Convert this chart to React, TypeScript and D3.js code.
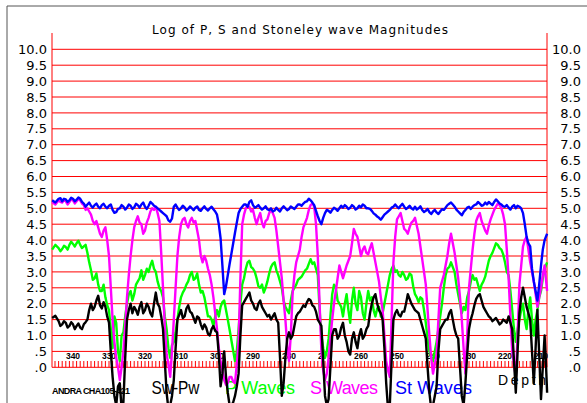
import React from 'react';
import * as d3 from 'd3';

// Depth axis (decreasing to the right)
const depthLabels = [340, 330, 320, 310, 300, 290, 280, 270, 260, 250, 240, 230, 220, 210];
const depthTicks = d3.range(345, 208, -1);
const yTicks = d3.range(0, 10.001, 0.5);
const depths = [345.8, ...d3.range(344, 208, -1), 208.3];

// Values at each depth sample
const stWaves = [
  5.25, 5.3, 5.22, 5.28, 5.25, 5.3, 5.27, 5.3, 5.15, 5.12,
  5.08, 5.1, 5.05, 5.1, 5.05, 5.08, 4.95, 4.88, 5.0, 5.05,
  5.02, 5.08, 5.03, 5.1, 5.12, 5.05, 5.08, 5.15, 5.05, 4.95,
  4.85, 4.75, 4.58, 5.05, 5.02, 5.0, 5.03, 4.98, 5.0, 5.02,
  4.95, 5.0, 4.98, 5.0, 4.97, 4.8, 4.05, 2.3, 2.9, 3.57,
  4.23, 4.85, 5.05, 5.12, 5.2, 5.1, 5.05, 5.02, 5.0, 4.97,
  5.0, 4.93, 4.95, 5.0, 5.0, 4.98, 5.02, 5.05, 5.12, 5.15,
  5.22, 5.25, 5.1, 4.75, 4.5, 4.85, 4.92, 4.95, 4.98, 5.0,
  5.02, 5.05, 5.02, 5.05, 5.0, 5.03, 5.08, 5.0, 4.92, 4.8,
  4.7, 4.72, 4.85, 4.95, 5.05, 5.05, 5.08, 5.05, 5.02, 5.0,
  5.05, 5.0, 4.95, 4.92, 4.88, 4.9, 4.87, 4.9, 4.95, 5.1,
  5.18, 5.05, 4.9, 4.78, 4.95, 5.05, 5.05, 5.12, 5.15, 5.1,
  5.12, 5.15, 5.2, 5.22, 5.12, 5.05, 5.02, 5.05, 5.0, 5.05,
  4.85, 4.1, 3.8, 2.7, 2.1, 3.2, 4.0,
  4.2,
];
// Values half way between consecutive depth samples
const stWavesMid = [
  5.18, 5.32, 5.3, 5.2, 5.33, 5.22, 5.34, 5.2, 5.05, 5.18,
  5.02, 5.15, 5.0, 5.14, 5.0, 5.12, 4.86, 4.98, 5.1, 4.96,
  5.12, 4.98, 5.14, 5.02, 5.18, 4.98, 5.2, 5.08, 5.0, 4.9,
  4.8, 4.62, 4.68, 5.12, 4.95, 5.08, 4.93, 5.06, 4.94, 5.06,
  4.92, 5.06, 4.93, 5.05, 4.9, 4.5, 3.2, 2.55, 3.25, 3.9,
  4.55, 4.98, 5.12, 5.05, 5.25, 5.02, 5.1, 4.96, 5.06, 4.94,
  4.9, 5.02, 4.9, 5.06, 4.94, 5.06, 4.98, 5.12, 5.08, 5.2,
  5.3, 5.18, 4.92, 4.6, 4.7, 4.95, 4.86, 5.02, 4.92, 5.08,
  5.1, 4.98, 5.1, 4.96, 5.08, 5.12, 5.0, 4.98, 4.84, 4.74,
  4.64, 4.8, 4.9, 5.02, 5.12, 5.0, 5.14, 4.98, 5.08, 4.96,
  4.96, 5.06, 4.88, 4.98, 4.82, 4.95, 4.82, 4.97, 5.02, 5.14,
  5.12, 4.96, 4.84, 4.88, 5.02, 4.98, 5.1, 5.2, 5.08, 5.18,
  5.2, 5.1, 5.28, 5.15, 5.06, 5.1, 4.96, 5.1, 5.08, 5.0,
  4.5, 3.9, 3.1, 2.4, 2.6, 3.7, 4.1,
];

const pWaves = [
  3.7, 3.75, 3.72, 3.78, 3.85, 3.88, 3.9, 3.85, 3.8, 3.6,
  3.05, 2.8, 2.6, 2.4, 2.2, 1.8, 0.6, 1.4, 0.2, 1.1,
  2.0, 2.4, 2.3, 2.7, 3.05, 2.9, 3.0, 3.35, 3.0, 2.5,
  2.2, 1.2, 0.3, 0.8, 1.5, 2.2, 2.45, 2.7, 3.0, 2.8,
  2.6, 2.4, 1.9, 1.6, 1.3, 1.8, 1.9, 2.1, 1.5, 0.85,
  0.2, 1.2, 2.6, 3.1, 3.35, 3.1, 2.8, 2.5, 2.35, 2.7,
  3.15, 3.3, 2.9, 2.5, 1.9, 1.7, 2.4, 2.6, 2.8, 2.95,
  3.1, 3.4, 3.3, 2.9, 1.0, 0.3, 0.9, 2.3, 2.5, 2.0,
  1.6, 2.3, 1.4, 2.5, 1.8, 2.2, 1.5, 2.4, 2.2, 1.6,
  1.9, 1.7, 2.3, 2.9, 3.2, 3.05, 2.85, 2.9, 2.8, 2.9,
  2.3, 2.05, 2.15, 1.4, 0.5, 0.2, 0.8, 1.6, 2.5, 3.1,
  3.3, 3.0, 2.3, 1.7, 1.8, 2.4, 2.9, 2.8, 2.4, 2.7,
  3.1, 3.5, 3.75, 3.85, 3.7, 3.3, 2.9, 1.8, 0.8, 1.5,
  2.0, 1.2, 2.2, 1.0, 1.8, 2.4, 3.1,
  3.3,
];
const pWavesMid = [
  3.85, 3.65, 3.82, 3.7, 3.95, 3.8, 3.98, 3.75, 3.85, 3.3,
  2.75, 2.95, 2.4, 2.6, 1.95, 1.2, 1.6, 0.5, 1.0, 1.6,
  2.3, 2.1, 2.6, 2.8, 2.75, 3.1, 3.2, 3.1, 2.7, 2.4,
  1.6, 0.6, 0.7, 1.1, 1.9, 2.35, 2.6, 2.9, 2.75, 2.95,
  2.35, 2.2, 1.6, 1.5, 1.6, 1.6, 2.05, 1.8, 1.18, 0.52,
  0.5, 2.0, 2.8, 3.3, 3.15, 3.0, 2.55, 2.6, 2.5, 2.95,
  3.25, 3.05, 2.7, 2.1, 1.8, 2.1, 2.5, 2.75, 2.85, 3.05,
  3.25, 3.25, 3.1, 1.8, 0.6, 0.5, 1.6, 2.6, 2.1, 1.9,
  2.0, 1.8, 2.1, 2.0, 2.4, 1.7, 2.0, 2.1, 1.8, 1.85,
  1.6, 2.0, 2.6, 3.1, 3.0, 2.9, 3.0, 2.75, 2.95, 2.55,
  2.2, 2.2, 1.8, 0.9, 0.3, 0.5, 1.2, 2.0, 2.9, 3.15,
  3.15, 2.6, 2.0, 1.9, 2.2, 2.7, 2.75, 2.6, 2.6, 2.85,
  3.35, 3.6, 3.9, 3.75, 3.55, 3.0, 2.4, 1.2, 1.2, 1.8,
  1.5, 1.8, 1.5, 1.5, 2.2, 2.8, 3.2,
];

const sWaves = [
  5.2, 5.25, 5.18, 5.22, 5.2, 5.25, 5.22, 5.25, 5.1, 5.0,
  4.8, 4.5, 4.4, 4.1, 4.4, 3.5, 1.5, 0.3, -0.4, 0.5,
  2.2, 3.5, 4.4, 4.75, 4.5, 4.3, 4.7, 5.0, 5.05, 4.6,
  2.5, 0.4, -0.3, 1.5, 3.5, 4.5, 4.7, 4.4, 4.7, 4.6,
  4.0, 3.3, 3.35, 2.9, 2.2, 1.2, 0.2, -0.4, -0.5, -0.3,
  -0.5, 0.8, 4.5, 5.0, 5.05, 4.95, 4.5, 4.85, 4.4, 4.65,
  4.95, 4.7, 3.8, 2.8, 1.5, 0.2, 2.3, 3.3, 3.7, 4.4,
  4.7, 5.1, 5.05, 3.5, 0.5, -0.4, 0.3, 1.5, 2.4, 3.2,
  2.8, 3.2, 3.5, 4.35, 4.1, 3.5, 3.8, 3.55, 3.9, 3.3,
  2.7, 1.8, 0.2, -0.3, 3.3, 4.65, 4.85, 4.35, 4.2, 4.55,
  4.7, 4.2, 3.4, 2.6, 1.0, -0.2, 0.4, 2.5, 2.9, 3.5,
  4.2, 3.6, 2.8, 1.5, -0.2, 2.5, 3.7, 4.6, 4.85, 4.45,
  4.2, 4.65, 4.95, 5.15, 5.0, 4.5, 2.8, 0.5, -0.3, 2.6,
  3.8, 4.1, 3.3, 2.7, 1.9, 2.5, 3.2,
  2.4,
];
const sWavesMid = [
  5.12, 5.2, 5.26, 5.12, 5.28, 5.15, 5.3, 5.15, 4.95, 4.9,
  4.6, 4.6, 4.2, 4.3, 4.0, 2.5, 0.8, 0.0, 0.0, 1.3,
  2.9, 4.0, 4.6, 4.55, 4.2, 4.55, 4.9, 4.95, 4.85, 3.6,
  1.3, 0.1, 0.5, 2.5, 4.1, 4.65, 4.5, 4.6, 4.55, 4.3,
  3.5, 3.5, 3.1, 2.6, 1.7, 0.6, -0.1, -0.55, -0.3, -0.45,
  0.1, 2.8, 4.8, 5.08, 4.9, 4.7, 4.7, 4.55, 4.6, 4.85,
  4.85, 4.3, 3.3, 2.1, 0.7, 1.0, 2.9, 3.5, 4.1, 4.55,
  4.95, 5.15, 4.5, 2.0, -0.1, -0.2, 0.9, 2.0, 2.8, 3.0,
  3.0, 3.35, 3.9, 4.2, 3.8, 3.7, 3.6, 3.75, 3.6, 3.0,
  2.2, 1.0, -0.1, 1.5, 4.1, 4.75, 4.6, 4.3, 4.4, 4.6,
  4.45, 3.8, 3.0, 1.8, 0.3, 0.1, 1.5, 2.7, 3.2, 3.9,
  3.9, 3.2, 2.2, 0.6, 1.0, 3.1, 4.2, 4.75, 4.6, 4.3,
  4.45, 4.8, 5.05, 5.1, 4.8, 3.7, 1.6, 0.1, 1.0, 3.2,
  4.0, 3.7, 3.0, 2.3, 2.2, 2.9, 2.8,
];

const swPw = [
  1.55, 1.45, 1.35, 1.4, 1.3, 1.35, 1.3, 1.25, 1.35, 1.5,
  2.0, 1.9, 2.25, 1.85, 1.9, 1.4, -0.3, -1.2, -0.5, -1.1,
  1.5, 2.0, 1.9, 1.65, 2.05, 1.8, 1.9, 1.6, 2.35, 1.9,
  1.2, -0.8, -1.2, -0.4, 1.5, 1.8, 1.6, 1.95, 1.7, 1.4,
  1.55, 1.2, 1.25, 1.0, 1.3, 1.1, -0.6, 0.5, -0.8, -1.2,
  -0.9, -0.2, 1.95, 2.15, 2.35, 2.0, 1.8, 2.1, 1.8, 1.6,
  1.5, 1.7, 1.4, -0.9, 0.3, 1.1, 1.0, 1.6, 1.75, 1.95,
  2.05, 2.1, 1.9, 1.5, 1.3, -0.9, -1.0, 1.0, 1.2, 1.0,
  1.4, 0.8, 0.4, 1.1, 0.6, 1.2, 1.0, 1.3, 2.0, 2.3,
  1.8, 1.5, -0.5, -1.2, 1.5, 1.8, 1.6, 1.75, 2.3, 2.0,
  1.8, 1.7, 1.3, 0.9, -0.8, -1.2, -0.6, 1.2, 1.4, 1.5,
  1.8, 1.2, 0.9, -0.9, -0.5, 1.2, 1.7, 2.15, 2.3, 1.9,
  1.7, 1.55, 1.5, 1.45, 1.4, 1.45, 1.6, 1.2, -0.8, 1.7,
  2.5, 1.9, 1.5, -0.5, 1.8, -1.0, 1.0,
  -0.8,
];
const swPwMid = [
  1.62, 1.3, 1.45, 1.25, 1.42, 1.2, 1.38, 1.2, 1.42, 1.8,
  1.8, 2.1, 1.95, 2.05, 1.6, 0.5, -0.9, -0.6, -1.3, 0.3,
  1.8, 1.7, 1.8, 1.9, 1.7, 2.0, 1.7, 2.0, 2.0, 1.6,
  0.2, -1.3, -0.9, 0.6, 1.65, 1.55, 1.85, 1.75, 1.55, 1.6,
  1.35, 1.35, 1.05, 1.2, 1.15, 0.4, -0.2, -0.3, -1.2, -1.1,
  -0.6, 1.0, 2.05, 2.25, 2.1, 1.85, 2.0, 1.9, 1.7, 1.65,
  1.6, 1.5, 0.3, -0.5, 0.9, 0.9, 1.3, 1.7, 1.85, 1.9,
  2.15, 1.95, 1.75, 1.4, 0.2, -1.2, 0.0, 1.2, 0.9, 1.25,
  1.0, 0.5, 0.9, 0.8, 1.0, 0.9, 1.2, 1.7, 2.2, 2.0,
  1.7, 0.6, -1.3, 0.2, 1.7, 1.65, 1.75, 2.0, 2.15, 1.9,
  1.75, 1.5, 1.1, 0.0, -1.3, -0.9, 0.5, 1.3, 1.5, 1.7,
  1.5, 1.0, 0.0, -1.2, 0.4, 1.5, 1.95, 2.25, 2.1, 1.8,
  1.6, 1.45, 1.55, 1.35, 1.5, 1.4, 1.4, 0.2, 0.5, 2.2,
  2.2, 1.7, 0.5, 0.6, 0.4, 0.0, 0.2,
];

const W = 587;
const H = 403;
const plotLeft = 52;
const plotRight = 547;

const x = d3.scaleLinear().domain([340, 210]).range([73, 541]);
const y = d3.scaleLinear().domain([0, 10]).range([367.3, 49.3]);

const fmt = (v: number) => (v < 1 ? '.' + (Math.round(v * 10) % 10) : v.toFixed(1));

type Pt = [number, number];
function series(vals: number[], mids: number[]): Pt[] {
  const pts: Pt[] = [];
  vals.forEach((v, i) => {
    pts.push([depths[i], v]);
    if (i < mids.length && i + 1 < depths.length) {
      pts.push([(depths[i] + depths[i + 1]) / 2, mids[i]]);
    }
  });
  return pts;
}

const line = d3
  .line<Pt>()
  .x((p) => x(p[0]))
  .y((p) => y(p[1]));

export default function App() {
  const font = "'DejaVu Sans', sans-serif";
  const lib = "'Liberation Sans', Arial, sans-serif";
  const sw = 2.4;
  return (
    <svg
      width={W}
      height={H}
      style={{ position: 'absolute', left: 0, top: 0, display: 'block', background: '#fff' }}
    >
      {/* frame */}
      <line x1={7} y1={6} x2={W} y2={6} stroke="#555" strokeWidth={1} />
      <line x1={7} y1={6} x2={7} y2={H} stroke="#555" strokeWidth={1} />

      {/* title */}
      <text x={152} y={34} fontFamily={font} fontSize={12} textLength={296} lengthAdjust="spacing" fill="#000">
        Log of P, S and Stoneley wave Magnitudes
      </text>

      {/* grid */}
      {yTicks.map((t) => (
        <line key={'g' + t} x1={plotLeft} x2={plotRight} y1={y(t)} y2={y(t)} stroke="#ff0000" strokeWidth={1} />
      ))}
      <line x1={plotLeft} x2={plotLeft} y1={33} y2={y(0)} stroke="#ff0000" strokeWidth={1} />
      <line x1={plotRight} x2={plotRight} y1={33} y2={y(0)} stroke="#ff0000" strokeWidth={1} />

      {/* y labels */}
      {yTicks.map((t) => (
        <text key={'l' + t} x={47} y={y(t)} dy="0.36em" textAnchor="end" fontFamily={font} fontSize={13} fill="#000">
          {fmt(t)}
        </text>
      ))}
      {yTicks.map((t) => (
        <text key={'r' + t} x={581} y={y(t)} dy="0.36em" textAnchor="end" fontFamily={font} fontSize={13} fill="#000">
          {fmt(t)}
        </text>
      ))}

      {/* depth ticks */}
      {depthTicks.map((d) => (
        <line key={'t' + d} x1={x(d)} x2={x(d)} y1={361} y2={y(0)} stroke="#ff0000" strokeWidth={1} />
      ))}
      {depthLabels.map((d) => (
        <text key={'d' + d} x={x(d)} y={358.5} textAnchor="middle" fontFamily={lib} fontWeight="bold" fontSize={8.5} fill="#000">
          {d}
        </text>
      ))}

      {/* legend texts */}
      <text x={52} y={394} fontFamily={lib} fontWeight="bold" fontSize={9} textLength={78} lengthAdjust="spacing" fill="#000">
        ANDRA CHA105-421
      </text>
      <text x={151.5} y={394} fontFamily={lib} fontSize={18} textLength={48} lengthAdjust="spacingAndGlyphs" fill="#000">
        Sw-Pw
      </text>
      <text x={225} y={394} fontFamily={lib} fontSize={18} textLength={70} lengthAdjust="spacing" fill="#00ff00">
        P Waves
      </text>
      <text x={310} y={394} fontFamily={lib} fontSize={18} textLength={68} lengthAdjust="spacing" fill="#ff00ff">
        S Waves
      </text>
      <text x={395} y={394} fontFamily={lib} fontSize={18} textLength={77} lengthAdjust="spacing" fill="#0000ff">
        St Waves
      </text>
      <text x={498} y={385} fontFamily={lib} fontSize={14} textLength={48} lengthAdjust="spacing" fill="#000">
        Depth
      </text>

      {/* series */}
      <path d={line(series(pWaves, pWavesMid)) || ''} fill="none" stroke="#00ff00" strokeWidth={sw} strokeLinejoin="round" />
      <path d={line(series(sWaves, sWavesMid)) || ''} fill="none" stroke="#ff00ff" strokeWidth={sw} strokeLinejoin="round" />
      <path d={line(series(swPw, swPwMid)) || ''} fill="none" stroke="#000000" strokeWidth={sw} strokeLinejoin="round" />
      <path d={line(series(stWaves, stWavesMid)) || ''} fill="none" stroke="#0000ff" strokeWidth={sw} strokeLinejoin="round" />
    </svg>
  );
}
